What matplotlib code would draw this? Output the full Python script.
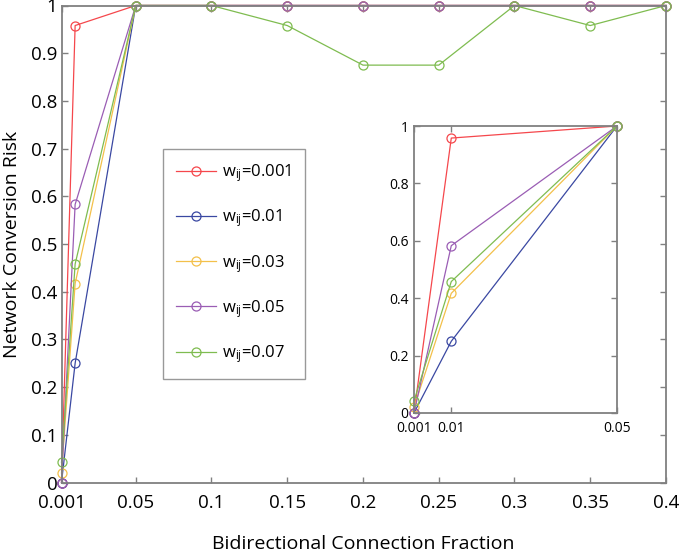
import matplotlib
matplotlib.use("Agg")
import matplotlib.pyplot as plt

plt.rcParams['font.family'] = ['Open Sans', 'DejaVu Sans']
plt.rcParams['mathtext.default'] = 'regular'

x_main = [0.001, 0.01, 0.05, 0.1, 0.15, 0.2, 0.25, 0.3, 0.35, 0.4]
series_labels = [r'w$_{ij}$=0.001', r'w$_{ij}$=0.01', r'w$_{ij}$=0.03',
                 r'w$_{ij}$=0.05', r'w$_{ij}$=0.07']
y_w0001 = [0.0, 0.958, 1, 1, 1, 1, 1, 1, 1, 1]
y_w001 = [0.0, 0.25, 1, 1, 1, 1, 1, 1, 1, 1]
y_w003 = [0.02, 0.417, 1, 1, 1, 1, 1, 1, 1, 1]
y_w005 = [0.0, 0.583, 1, 1, 1, 1, 1, 1, 1, 1]
y_w007 = [0.042, 0.458, 1, 1, 0.958, 0.875, 0.875, 1, 0.958, 1]
series = [y_w0001, y_w001, y_w003, y_w005, y_w007]
colors = ['#F5474C', '#3A48A2', '#F3C04A', '#9A5DB4', '#7FBC50']

x_ticks = [0.001, 0.05, 0.1, 0.15, 0.2, 0.25, 0.3, 0.35, 0.4]
x_ticklabels = ['0.001', '0.05', '0.1', '0.15', '0.2', '0.25', '0.3', '0.35', '0.4']
y_ticks = [0, 0.1, 0.2, 0.3, 0.4, 0.5, 0.6, 0.7, 0.8, 0.9, 1]
y_ticklabels = ['0', '0.1', '0.2', '0.3', '0.4', '0.5', '0.6', '0.7', '0.8', '0.9', '1']
inset_n = 3
inset_xticks = [0.001, 0.01, 0.05]
inset_xticklabels = ['0.001', '0.01', '0.05']
inset_yticks = [0, 0.2, 0.4, 0.6, 0.8, 1]
inset_yticklabels = ['0', '0.2', '0.4', '0.6', '0.8', '1']
x_title = 'Bidirectional Connection Fraction'
y_title = 'Network Conversion Risk'

W, H = 680, 552
fig = plt.figure(figsize=(W / 100, H / 100), dpi=100)
spine_c = '#808080'


def style(ax, fs, pad_x, pad_y):
    for s in ax.spines.values():
        s.set_color(spine_c)
        s.set_linewidth(1.3)
    ax.tick_params(direction='in', top=True, right=True, length=4, width=1.0,
                   color=spine_c, labelcolor='black', labelsize=fs)
    ax.tick_params(axis='x', pad=pad_x)
    ax.tick_params(axis='y', pad=pad_y)


ax = fig.add_axes([61.5 / W, 1 - 482.5 / H, 604.5 / W, 477 / H])
lines = []
for ys, c, lab in zip(series, colors, series_labels):
    l, = ax.plot(x_main, ys, color=c, lw=0.9, marker='o', ms=6.5, mfc='none',
                 mec=c, mew=0.9, label=lab, clip_on=False)
    lines.append(l)
ax.set_xlim(0.001, 0.4)
ax.set_ylim(0, 1)
ax.set_xticks(x_ticks)
ax.set_xticklabels(x_ticklabels)
ax.set_yticks(y_ticks)
ax.set_yticklabels(y_ticklabels)
style(ax, 13.5, 8, 3)

fig.text(0.5 * (61.5 + 666) / W, 1 - 549 / H, x_title, fontsize=14,
         ha='center', va='baseline')
fig.text(17.5 / W, 1 - 244 / H, y_title, fontsize=14, rotation=90,
         rotation_mode='anchor', ha='center', va='baseline')

leg = fig.legend(handles=lines, loc='upper left',
                 bbox_to_anchor=(163 / W, 1 - 149 / H), fontsize=12,
                 frameon=True, fancybox=False, handlelength=2.4,
                 handletextpad=0.35, labelspacing=1.4, borderpad=0.8,
                 borderaxespad=0)
leg.get_frame().set_edgecolor(spine_c)
leg.get_frame().set_linewidth(1.0)

axi = fig.add_axes([414 / W, 1 - 413 / H, 203 / W, 287 / H])
for ys, c in zip(series, colors):
    axi.plot(x_main[:inset_n], ys[:inset_n], color=c, lw=0.9, marker='o',
             ms=6.5, mfc='none', mec=c, mew=0.9, clip_on=False)
axi.set_xlim(0.001, 0.05)
axi.set_ylim(0, 1)
axi.set_xticks(inset_xticks)
axi.set_xticklabels(inset_xticklabels)
axi.set_yticks(inset_yticks)
axi.set_yticklabels(inset_yticklabels)
style(axi, 10, 6, 4)

fig.savefig('out.png', dpi=100)
